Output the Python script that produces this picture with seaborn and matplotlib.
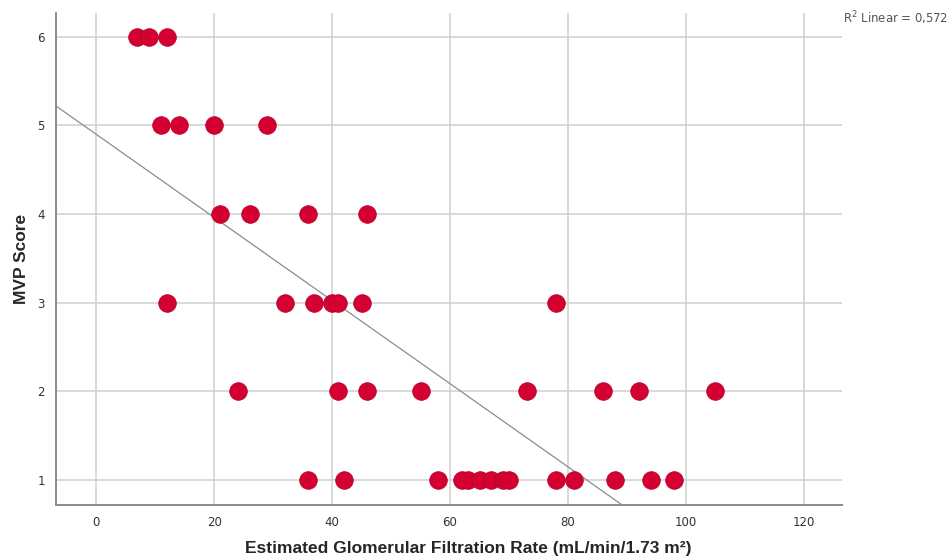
import pandas as pd
import matplotlib.pyplot as plt
import seaborn as sns

# eGFR values per MVP score
egfr_6 = [7, 9, 12]
egfr_5 = [11, 14, 20, 29]
egfr_4 = [21, 26, 36, 46]
egfr_3 = [12, 32, 37, 40, 41, 45, 78]
egfr_2 = [24, 41, 46, 55, 73, 86, 92, 105]
egfr_1 = [36, 42, 58, 62, 63, 65, 67, 69, 70, 78, 81, 88, 94, 98]

# linear fit as drawn in the reference (intercept, slope)
fit_intercept = 4.90
fit_slope = -0.0469

rows = []
for score, vals in [(6, egfr_6), (5, egfr_5), (4, egfr_4), (3, egfr_3), (2, egfr_2), (1, egfr_1)]:
    for v in vals:
        rows.append({'egfr': v, 'mvp': score})
df = pd.DataFrame(rows)

sns.set_style("white")
plt.rcParams['font.family'] = ['Liberation Sans', 'DejaVu Sans']

fig = plt.figure(figsize=(9.5, 5.59), dpi=100)
ax = fig.add_axes([0.059, 0.097, 0.827, 0.88])
ax.set_xlim(-6.8, 126.4)
ax.set_ylim(0.72, 6.27)

ax.axline((0, fit_intercept), slope=fit_slope, color='#8c8c8c', lw=0.9, zorder=2)
sns.scatterplot(x='egfr', y='mvp', data=df, ax=ax, color='#d50032', s=160,
                edgecolor='#b8002a', linewidth=0.6, zorder=3)

ax.set_xticks([0, 20, 40, 60, 80, 100, 120])
ax.set_yticks([1, 2, 3, 4, 5, 6])
ax.grid(True, color='#cfcfcf', lw=1.1, zorder=0)
ax.set_axisbelow(True)
for s in ['top', 'right']:
    ax.spines[s].set_visible(False)
for s in ['left', 'bottom']:
    ax.spines[s].set_color('#8a8a8a')
    ax.spines[s].set_linewidth(1.4)
ax.tick_params(length=0, labelsize=8.5, colors='#333333', pad=8)
for t in ax.get_xticklabels() + ax.get_yticklabels():
    t.set_family('DejaVu Sans')

ax.set_xlabel('Estimated Glomerular Filtration Rate (mL/min/1.73 m²)',
              fontsize=12.5, fontweight='bold')
ax.xaxis.set_label_coords(0.525, -0.074)
ax.set_ylabel('MVP Score', fontsize=12.5, fontweight='bold', labelpad=6)

fig.text(0.887, 0.958, 'R$^2$ Linear = 0,572', fontsize=8.5, color='#555555',
         family='DejaVu Sans')

plt.savefig('out.png', dpi=100)
